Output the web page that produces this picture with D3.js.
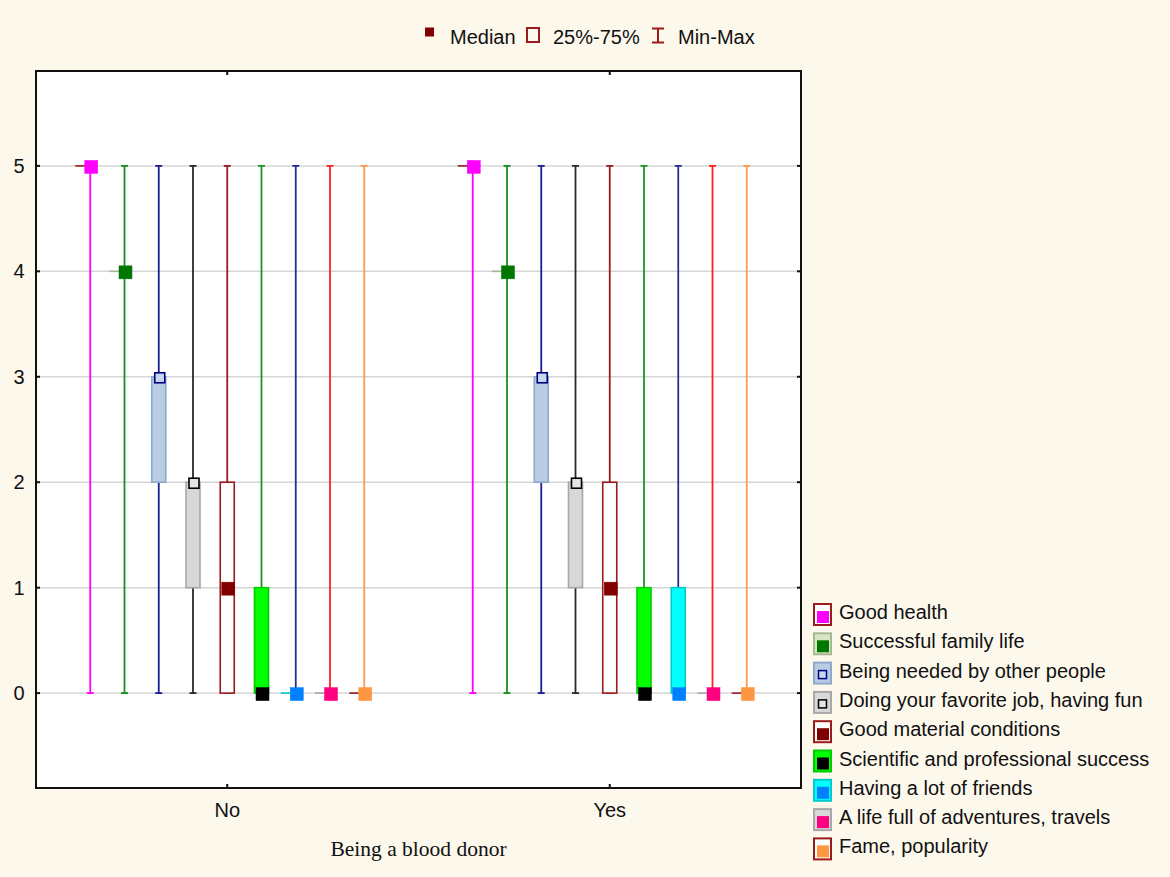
<!DOCTYPE html>
<html>
<head>
<meta charset="utf-8">
<script src="https://cdn.jsdelivr.net/npm/d3@7"></script>
<style>
  body { margin: 0; background: #fdf8ec; }
  svg { display: block; font-family: "Liberation Sans", Arial, sans-serif; }
</style>
</head>
<body>
<script>
// categorias e variaveis
const grupos = ["No", "Yes"];
const variaveis = ["Good health", "Successful family life", "Being needed by other people",
                   "Doing your favorite job, having fun", "Good material conditions",
                   "Scientific and professional success", "Having a lot of friends",
                   "A life full of adventures, travels", "Fame, popularity"];
const yMarcas = [0, 1, 2, 3, 4, 5];

// estatisticas por grupo (mesma ordem das variaveis)
const minNo  = [0, 0, 0, 0, 0, 0, 0, 0, 0];
const q1No   = [5, 4, 2, 1, 0, 0, 0, 0, 0];
const medNo  = [5, 4, 3, 2, 1, 0, 0, 0, 0];
const q3No   = [5, 4, 3, 2, 2, 1, 0, 0, 0];
const maxNo  = [5, 5, 5, 5, 5, 5, 5, 5, 5];

const minYes = [0, 0, 0, 0, 0, 0, 0, 0, 0];
const q1Yes  = [5, 4, 2, 1, 0, 0, 0, 0, 0];
const medYes = [5, 4, 3, 2, 1, 0, 0, 0, 0];
const q3Yes  = [5, 4, 3, 2, 2, 1, 1, 0, 0];
const maxYes = [5, 5, 5, 5, 5, 5, 5, 5, 5];

// estilos de cada variavel
const corBigode   = ["#ff00ff", "#1e8c1e", "#1c1c96", "#2a2a2a", "#9b1b1b", "#1e961e", "#2a2aa0", "#ff2020", "#ff9a50"];
const corCaixa    = ["#ffffff", "#d6e6c6", "#b8cce4", "#d8d8d8", "#ffffff", "#00ff00", "#00ffff", "#d8d8d8", "#ffffff"];
const bordaCaixa  = ["#9b1b1b", "#a8b890", "#8ea9cc", "#a8a8a8", "#9b1b1b", "#00cc00", "#00cccc", "#a8a8a8", "#9b1b1b"];
const corMediana  = ["#ff00ff", "#007800", "#c8d8ec", "#e4e4e4", "#800000", "#000000", "#0080ff", "#ff0080", "#ff9640"];
const bordaMediana = ["#ff00ff", "#007800", "#000080", "#000000", "#800000", "#000000", "#0080ff", "#ff0080", "#ff9640"];
const medianaOca  = [false, false, true, true, false, false, false, false, false];

const largura = 1170, altura = 877;
const area = { e: 36, d: 801, c: 71, b: 788 };
const fonte = 20;

var tabela = grupos.map(function(g) {
  var mn = g === "No" ? minNo : minYes;
  var a  = g === "No" ? q1No  : q1Yes;
  var m  = g === "No" ? medNo : medYes;
  var b  = g === "No" ? q3No  : q3Yes;
  var mx = g === "No" ? maxNo : maxYes;
  return variaveis.map(function(v, i) {
    return { grupo: g, i: i, min: mn[i], q1: a[i], med: m[i], q3: b[i], max: mx[i] };
  });
}).flat();

var svg = d3.select("body")
            .append("svg")
            .attr("width", largura)
            .attr("height", altura);

var xEscala = d3.scaleBand()
                .domain(grupos)
                .range([area.e, area.d])
                .padding(0);

var dentro = d3.scalePoint()
               .domain(d3.range(variaveis.length))
               .range([-137, 137]);

var yEscala = d3.scaleLinear()
                .domain([-0.9, 5.9])
                .range([area.b, area.c]);

function cx(d) { return xEscala(d.grupo) + xEscala.bandwidth() / 2 + dentro(d.i); }

// fundo da area
svg.append("rect")
   .attr("x", area.e).attr("y", area.c)
   .attr("width", area.d - area.e).attr("height", area.b - area.c)
   .attr("fill", "#ffffff");

// grade
svg.append("g")
   .selectAll("line")
   .data(yMarcas)
   .enter()
   .append("line")
   .attr("x1", area.e).attr("x2", area.d)
   .attr("y1", function(d) { return yEscala(d); })
   .attr("y2", function(d) { return yEscala(d); })
   .attr("stroke", "#d6d6d6")
   .attr("stroke-width", 1.5);

var caixas = svg.append("g")
                .selectAll("g")
                .data(tabela)
                .enter()
                .append("g");

// bigodes
caixas.append("line")
      .attr("x1", cx).attr("x2", cx)
      .attr("y1", function(d) { return yEscala(d.min); })
      .attr("y2", function(d) { return yEscala(d.max); })
      .attr("stroke", function(d) { return corBigode[d.i]; })
      .attr("stroke-width", 1.8);

["min", "max"].forEach(function(k) {
  caixas.append("line")
        .attr("x1", function(d) { return cx(d) - 3.5; })
        .attr("x2", function(d) { return cx(d) + 3.5; })
        .attr("y1", function(d) { return yEscala(d[k]); })
        .attr("y2", function(d) { return yEscala(d[k]); })
        .attr("stroke", function(d) { return corBigode[d.i]; })
        .attr("stroke-width", 1.8);
});

// caixas 25%-75%
caixas.filter(function(d) { return d.q3 > d.q1; })
      .append("rect")
      .attr("x", function(d) { return cx(d) - 7; })
      .attr("y", function(d) { return yEscala(d.q3); })
      .attr("width", 14)
      .attr("height", function(d) { return yEscala(d.q1) - yEscala(d.q3); })
      .attr("fill", function(d) { return corCaixa[d.i]; })
      .attr("stroke", function(d) { return bordaCaixa[d.i]; })
      .attr("stroke-width", 1.6);

// caixa de altura zero
caixas.filter(function(d) { return d.q3 === d.q1; })
      .append("line")
      .attr("x1", function(d) { return cx(d) - 15; })
      .attr("x2", function(d) { return cx(d); })
      .attr("y1", function(d) { return yEscala(d.q1); })
      .attr("y2", function(d) { return yEscala(d.q1); })
      .attr("stroke", function(d) { return bordaCaixa[d.i]; })
      .attr("stroke-width", 1.6);

// medianas
caixas.append("rect")
      .attr("x", function(d) { return cx(d) + 1 - (medianaOca[d.i] ? 5 : 6.5); })
      .attr("y", function(d) { return yEscala(d.med) + 1 - (medianaOca[d.i] ? 5 : 6.5); })
      .attr("width", function(d) { return medianaOca[d.i] ? 10 : 13; })
      .attr("height", function(d) { return medianaOca[d.i] ? 10 : 13; })
      .attr("fill", function(d) { return corMediana[d.i]; })
      .attr("stroke", function(d) { return bordaMediana[d.i]; })
      .attr("stroke-width", function(d) { return medianaOca[d.i] ? 1.6 : 0.5; });

// moldura e marcas
svg.append("rect")
   .attr("x", area.e).attr("y", area.c)
   .attr("width", area.d - area.e).attr("height", area.b - area.c)
   .attr("fill", "none")
   .attr("stroke", "#111")
   .attr("stroke-width", 2);

var marcas = svg.append("g").attr("stroke", "#111").attr("stroke-width", 2);
yMarcas.forEach(function(v) {
  marcas.append("line").attr("x1", area.e).attr("x2", area.e + 4).attr("y1", yEscala(v)).attr("y2", yEscala(v));
  marcas.append("line").attr("x1", area.d - 4).attr("x2", area.d).attr("y1", yEscala(v)).attr("y2", yEscala(v));
});
grupos.forEach(function(g) {
  var x = xEscala(g) + xEscala.bandwidth() / 2;
  marcas.append("line").attr("x1", x).attr("x2", x).attr("y1", area.b).attr("y2", area.b - 4);
  marcas.append("line").attr("x1", x).attr("x2", x).attr("y1", area.c).attr("y2", area.c + 4);
});

// rotulos
svg.append("g")
   .selectAll("text")
   .data(yMarcas)
   .enter()
   .append("text")
   .attr("x", 19)
   .attr("y", function(d) { return yEscala(d) + 7; })
   .attr("text-anchor", "middle")
   .attr("font-size", fonte)
   .attr("fill", "#111")
   .text(function(d) { return d; });

svg.append("g")
   .selectAll("text")
   .data(grupos)
   .enter()
   .append("text")
   .attr("x", function(d) { return xEscala(d) + xEscala.bandwidth() / 2; })
   .attr("y", 817)
   .attr("text-anchor", "middle")
   .attr("font-size", fonte)
   .attr("fill", "#111")
   .text(function(d) { return d; });

svg.append("text")
   .attr("x", (area.e + area.d) / 2)
   .attr("y", 856)
   .attr("text-anchor", "middle")
   .attr("font-family", "'Liberation Serif', 'Times New Roman', serif")
   .attr("font-size", 21.5)
   .attr("fill", "#111")
   .text("Being a blood donor");

// legenda de cima
var topo = svg.append("g");
topo.append("rect").attr("x", 425).attr("y", 27.5).attr("width", 9).attr("height", 9).attr("fill", "#800000");
topo.append("text").attr("x", 450).attr("y", 44).attr("font-size", fonte).attr("fill", "#111").text("Median");
topo.append("rect").attr("x", 527).attr("y", 28).attr("width", 12).attr("height", 14)
    .attr("fill", "none").attr("stroke", "#9b1b1b").attr("stroke-width", 2);
topo.append("text").attr("x", 553).attr("y", 44).attr("font-size", fonte).attr("fill", "#111").text("25%-75%");
topo.append("path").attr("d", "M652,28.5H664M658,28.5V42.5M652,42.5H664")
    .attr("fill", "none").attr("stroke", "#9b1b1b").attr("stroke-width", 2);
topo.append("text").attr("x", 678).attr("y", 44).attr("font-size", fonte).attr("fill", "#111").text("Min-Max");

// legenda da direita
var leg = svg.append("g")
             .selectAll("g")
             .data(variaveis)
             .enter()
             .append("g")
             .attr("transform", function(d, i) { return "translate(813," + (603 + i * 29.3) + ")"; });

leg.append("rect")
   .attr("x", 1).attr("y", 1).attr("width", 17).attr("height", 21)
   .attr("fill", function(d, i) { return corCaixa[i]; })
   .attr("stroke", function(d, i) { return bordaCaixa[i]; })
   .attr("stroke-width", 2);

leg.append("rect")
   .attr("x", function(d, i) { return medianaOca[i] ? 5.5 : 4; })
   .attr("y", function(d, i) { return medianaOca[i] ? 9 : 8; })
   .attr("width", function(d, i) { return medianaOca[i] ? 8 : 12; })
   .attr("height", function(d, i) { return medianaOca[i] ? 8 : 12; })
   .attr("fill", function(d, i) { return corMediana[i]; })
   .attr("stroke", function(d, i) { return medianaOca[i] ? bordaMediana[i] : "none"; })
   .attr("stroke-width", 1.5);

leg.append("text")
   .attr("x", 26)
   .attr("y", 16)
   .attr("font-size", fonte)
   .attr("fill", "#111")
   .text(function(d) { return d; });
</script>
</body>
</html>
